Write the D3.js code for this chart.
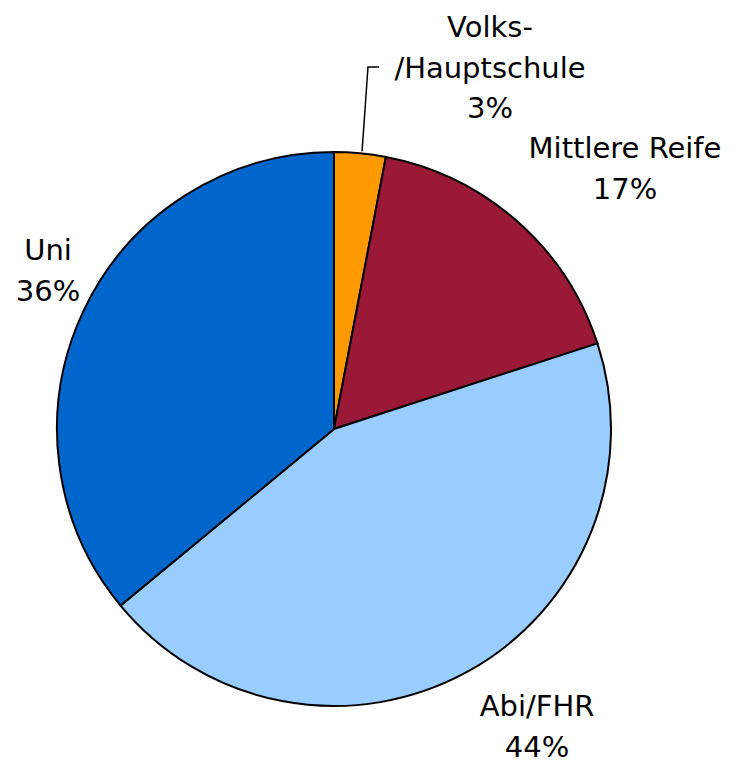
<!DOCTYPE html>
<html>
<head>
<meta charset="utf-8">
<script src="https://cdn.jsdelivr.net/npm/d3@7"></script>
<style>
  body { margin: 0; background: #fff; }
  text { font-family: "DejaVu Sans", Verdana, sans-serif; font-size: 29px; fill: #000; }
</style>
</head>
<body>
<svg id="chart" width="733" height="763"></svg>
<script>
// data
const categories = ['Volks-/Hauptschule', 'Mittlere Reife', 'Abi/FHR', 'Uni'];
const shares = [3, 17, 44, 36];
const labelLines = [['Volks-', '/Hauptschule', '3%'], ['Mittlere Reife', '17%'], ['Abi/FHR', '44%'], ['Uni', '36%']];
const colors = ['#ff9900', '#991936', '#99ccff', '#0066cc'];

const svg = d3.select('#chart');
const cx = 334, cy = 429, radius = 277;

const pie = d3.pie().sort(null).value(d => d.value);
const arc = d3.arc().innerRadius(0).outerRadius(radius);

const data = categories.map((c, i) => ({ name: c, value: shares[i], color: colors[i], lines: labelLines[i] }));
const arcs = pie(data);

const g = svg.append('g').attr('transform', `translate(${cx},${cy})`);

g.selectAll('path')
  .data(arcs)
  .enter().append('path')
    .attr('d', arc)
    .attr('fill', d => d.data.color)
    .attr('stroke', '#000')
    .attr('stroke-width', 2);

// label anchors (centre x, first baseline) placed like the original
const labelPos = [[490, 37], [625, 158], [537, 716], [48, 260]];
const lineGap = 40.5;

arcs.forEach((a, i) => {
  const t = svg.append('text')
    .attr('text-anchor', 'middle');
  a.data.lines.forEach((ln, k) => {
    t.append('tspan')
      .attr('x', labelPos[i][0])
      .attr('y', labelPos[i][1] + k * lineGap)
      .text(ln);
  });
});

// leader line for the small slice
const small = arcs[0];
const mid = (small.startAngle + small.endAngle) / 2;
const edge = [cx + Math.sin(mid) * radius + 2, cy - Math.cos(mid) * radius - 2];
svg.append('path')
  .attr('d', d3.line()([edge, [368, 67], [379, 67]]))
  .attr('fill', 'none')
  .attr('stroke', '#000')
  .attr('stroke-width', 1.5);
</script>
</body>
</html>
